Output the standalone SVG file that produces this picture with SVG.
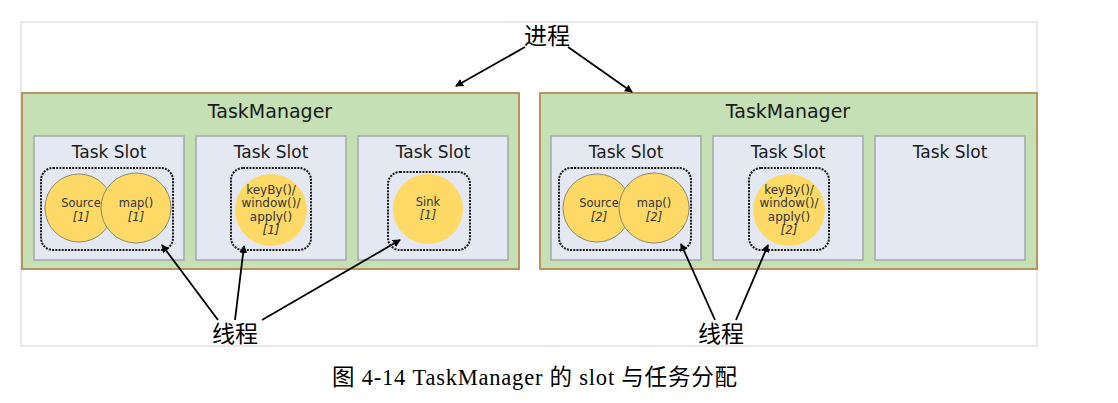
<svg xmlns="http://www.w3.org/2000/svg" width="1118" height="403" viewBox="0 0 1118 403">
<style>
.tm{fill:#c5e0b4;stroke:#b8935f;stroke-width:2}
.slot{fill:#e4e8f3;stroke:#a6a6a6;stroke-width:1.5}
.dot{fill:none;stroke:#1a1a1a;stroke-width:2;stroke-dasharray:2 1.2}
.op{fill:#ffd966;stroke:#8e8a6a;stroke-width:1}
.op2{fill:#ffd966}
.tmt{font-family:"DejaVu Sans",Verdana,sans-serif;font-size:19px;fill:#1a1a1a;text-anchor:middle}
.st{font-family:"DejaVu Sans",Verdana,sans-serif;font-size:17px;fill:#1a1a1a;text-anchor:middle}
.ot{font-family:"DejaVu Sans",Verdana,sans-serif;font-size:11.5px;fill:#333;text-anchor:middle}
.ok{font-family:"DejaVu Sans",Verdana,sans-serif;font-size:12px;fill:#333;text-anchor:middle}
.it{font-style:italic}
.cn{font-family:"Noto Sans CJK SC",sans-serif;font-size:23px;fill:#000;text-anchor:middle}
.cap{font-family:"Liberation Serif","Noto Sans CJK SC",serif;font-size:22.5px;fill:#000}
.ar{fill:none;stroke:#000;stroke-width:1.8;marker-end:url(#ah)}
</style>
<defs>
<marker id="ah" markerWidth="8" markerHeight="8" refX="7" refY="4" orient="auto" markerUnits="userSpaceOnUse">
<path d="M0,0 L8,4 L0,8 Z" fill="#000"/>
</marker>
</defs>
<rect x="0" y="0" width="1118" height="403" fill="#fff"/>
<rect id="frame" x="21" y="22" width="1016" height="324" fill="#fff" stroke="#d9d9d9" stroke-width="1.2"/>

<g id="tm1">
<rect class="tm" x="22" y="93" width="497" height="176"/>
<text class="tmt" x="270" y="118">TaskManager</text>
</g>
<g id="tm1-slot1">
<rect class="slot" x="34" y="136" width="150" height="124"/>
<text class="st" x="109" y="158">Task Slot</text>
<rect class="dot" x="41" y="168" width="132" height="82" rx="12"/>
</g>
<g id="tm1-source">
<circle class="op" cx="79" cy="208" r="34"/>
<text class="ot" x="81" y="207">Source</text>
<text class="ot it" x="81" y="221">[1]</text>
</g>
<g id="tm1-map">
<circle class="op" cx="136" cy="208" r="35"/>
<text class="ot" x="136" y="207">map()</text>
<text class="ot it" x="136" y="221">[1]</text>
</g>
<g id="tm1-slot2">
<rect class="slot" x="196" y="136" width="150" height="124"/>
<text class="st" x="271" y="158">Task Slot</text>
<rect class="dot" x="231" y="168" width="80" height="82" rx="12"/>
</g>
<g id="tm1-keyby">
<circle class="op2" cx="271" cy="210" r="36"/>
<text class="ok" x="271" y="194">keyBy()/</text>
<text class="ok" x="271" y="207">window()/</text>
<text class="ok" x="271" y="221">apply()</text>
<text class="ok it" x="271" y="234">[1]</text>
</g>
<g id="tm1-slot3">
<rect class="slot" x="358" y="136" width="150" height="124"/>
<text class="st" x="433" y="158">Task Slot</text>
<rect class="dot" x="388" y="172" width="82" height="78" rx="12"/>
</g>
<g id="tm1-sink">
<circle class="op2" cx="428" cy="209" r="35"/>
<text class="ot" x="428" y="206">Sink</text>
<text class="ot it" x="428" y="219">[1]</text>
</g>

<g id="tm2">
<rect class="tm" x="540" y="93" width="497" height="176"/>
<text class="tmt" x="788" y="118">TaskManager</text>
</g>
<g id="tm2-slot1">
<rect class="slot" x="551" y="136" width="150" height="124"/>
<text class="st" x="626" y="158">Task Slot</text>
<rect class="dot" x="559" y="168" width="132" height="82" rx="12"/>
</g>
<g id="tm2-source">
<circle class="op" cx="597" cy="208" r="34"/>
<text class="ot" x="599" y="207">Source</text>
<text class="ot it" x="599" y="221">[2]</text>
</g>
<g id="tm2-map">
<circle class="op" cx="654" cy="208" r="35"/>
<text class="ot" x="654" y="207">map()</text>
<text class="ot it" x="654" y="221">[2]</text>
</g>
<g id="tm2-slot2">
<rect class="slot" x="713" y="136" width="150" height="124"/>
<text class="st" x="788" y="158">Task Slot</text>
<rect class="dot" x="749" y="168" width="80" height="82" rx="12"/>
</g>
<g id="tm2-keyby">
<circle class="op2" cx="789" cy="210" r="36"/>
<text class="ok" x="789" y="194">keyBy()/</text>
<text class="ok" x="789" y="207">window()/</text>
<text class="ok" x="789" y="221">apply()</text>
<text class="ok it" x="789" y="234">[2]</text>
</g>
<g id="tm2-slot3">
<rect class="slot" x="875" y="136" width="150" height="124"/>
<text class="st" x="950" y="158">Task Slot</text>
</g>

<g id="label-process">
<text class="cn" x="547" y="44">进程</text>
</g>
<g id="label-thread1">
<text class="cn" x="235" y="342">线程</text>
</g>
<g id="label-thread2">
<text class="cn" x="721" y="342">线程</text>
</g>

<g id="connectors">
<line class="ar" x1="525" y1="47" x2="456" y2="86"/>
<line class="ar" x1="568" y1="47" x2="632" y2="92"/>
<line class="ar" x1="218" y1="320" x2="162" y2="245"/>
<line class="ar" x1="235" y1="320" x2="244" y2="246"/>
<line class="ar" x1="262" y1="320" x2="400" y2="240"/>
<line class="ar" x1="715" y1="320" x2="681" y2="244"/>
<line class="ar" x1="736" y1="320" x2="768" y2="245"/>
</g>

<text class="cap" x="332" y="385" textLength="405" lengthAdjust="spacing">图 4-14 TaskManager 的 slot 与任务分配</text>
</svg>
